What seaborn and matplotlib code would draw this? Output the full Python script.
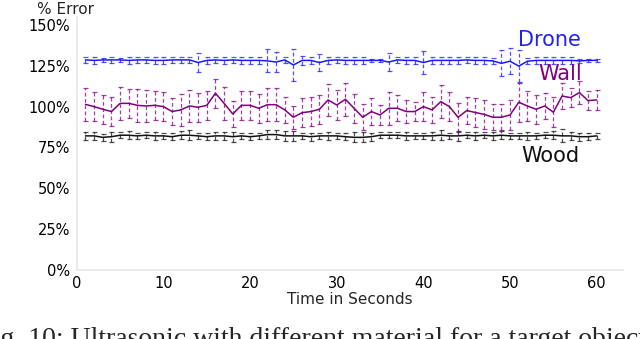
import seaborn as sns
import pandas as pd
import matplotlib.pyplot as plt

sns.set_theme(style="white")

seconds = list(range(1, 61))

drone_mean = [128.6, 128.3, 128.6, 128.6, 128.6, 128.3, 128.6, 128.6, 128.3, 128.3,
              128.6, 128.6, 128.6, 127.0, 128.3, 128.6, 128.3, 128.6, 128.3, 128.3,
              128.3, 128.0, 127.3, 128.6, 125.5, 128.3, 128.3, 127.0, 128.3, 128.6,
              128.3, 128.3, 128.3, 128.3, 128.3, 127.3, 128.6, 128.3, 128.3, 127.0,
              128.3, 128.3, 128.3, 128.3, 128.6, 128.3, 128.3, 128.0, 126.5, 127.8,
              124.8, 127.8, 128.3, 128.3, 128.3, 128.3, 128.3, 128.0, 128.3, 128.3]
drone_err = [2, 2, 1, 2, 1, 2, 2, 2, 2, 2,
             2, 2, 2, 6, 2, 2, 2, 2, 2, 2,
             2, 7, 6, 2, 10, 3, 2, 5, 2, 2,
             2, 2, 2, 1, 1, 5.5, 2, 2, 2, 7,
             2, 2, 2, 2, 2, 2, 2, 2, 8, 8,
             10, 2, 2, 2, 2, 2, 2, 1, 1, 1]

wall_mean = [101.4, 100.0, 98.4, 97.0, 102.0, 102.0, 100.8, 100.4, 100.8, 100.0,
             97.0, 98.0, 100.4, 99.6, 100.8, 108.2, 102.0, 95.5, 100.8, 100.8,
             99.0, 101.2, 101.2, 98.0, 93.5, 96.3, 97.0, 98.4, 104.1, 101.0,
             104.5, 99.0, 93.5, 97.0, 94.9, 99.0, 99.0, 97.0, 97.0, 100.0,
             98.0, 103.1, 100.0, 93.5, 97.6, 96.4, 95.3, 93.5, 93.5, 94.9,
             102.7, 100.4, 98.4, 100.4, 96.6, 106.5, 105.5, 108.6, 103.7, 104.1]
wall_err = [10, 9, 9, 9, 10, 9, 10, 10, 9, 9,
            8, 10, 10, 9, 9, 9, 10, 8, 9, 9,
            9, 10, 10, 8, 7, 9, 9, 9, 10, 9,
            10, 9, 8, 8, 6, 10, 8, 7, 6, 9,
            8, 10, 9, 9, 8, 9, 9, 8, 8, 9,
            12, 9, 9, 8, 9, 8, 6, 7, 6, 6]

wood_mean = [82.1, 82.1, 81.2, 81.6, 82.5, 82.5, 82.1, 82.5, 82.1, 82.1,
             81.6, 82.5, 82.5, 82.1, 81.6, 82.1, 82.1, 81.6, 82.1, 81.6,
             82.1, 82.9, 82.9, 82.1, 82.1, 82.1, 81.6, 82.1, 82.1, 82.1,
             81.6, 81.2, 81.2, 81.6, 82.5, 82.5, 82.5, 82.1, 82.1, 82.1,
             82.1, 82.5, 82.1, 82.1, 82.5, 82.1, 82.5, 82.1, 82.5, 82.1,
             82.1, 82.1, 82.1, 82.5, 82.5, 82.1, 82.1, 81.6, 81.6, 82.1]
wood_err = [2.5, 2.5, 2, 3, 2, 2.5, 2, 2, 2.5, 2,
            2, 2.5, 3, 2, 2, 2.5, 2.5, 3, 2, 2,
            2, 2.5, 2.5, 3, 3, 2, 2.5, 2, 2.5, 2,
            2, 3, 3, 2.5, 2, 2, 2, 2.5, 2, 2,
            2.5, 3, 2, 3, 2, 2.5, 2, 2.5, 2.5, 2,
            2, 2.5, 2, 2, 2.5, 4, 2.5, 2.5, 2, 2]

series = ["Drone", "Wall", "Wood"]
colors = {"Drone": "#1a1aff", "Wall": "#800080", "Wood": "#111111"}

df = pd.concat([
    pd.DataFrame({"t": seconds, "err": drone_mean, "sd": drone_err, "material": "Drone"}),
    pd.DataFrame({"t": seconds, "err": wall_mean, "sd": wall_err, "material": "Wall"}),
    pd.DataFrame({"t": seconds, "err": wood_mean, "sd": wood_err, "material": "Wood"}),
])

fig = plt.figure(figsize=(6.4, 3.39), dpi=100)
ax = fig.add_axes([0.12, 0.2035, 0.853, 0.747])

sns.lineplot(data=df, x="t", y="err", hue="material", palette=colors,
             linewidth=1.1, legend=False, ax=ax)

for name in series:
    d = df[df.material == name]
    eb = ax.errorbar(d.t, d.err, yerr=d.sd, fmt="none", ecolor=colors[name],
                     elinewidth=0.9, capsize=1.8, capthick=0.9, alpha=0.75)
    eb[2][0].set_linestyle((0, (3, 2)))

ax.set_xlim(0, 63)
ax.set_ylim(0, 155)
ax.set_xticks([0, 10, 20, 30, 40, 50, 60])
ax.set_yticks([0, 25, 50, 75, 100, 125, 150])
ax.set_yticklabels([f"{v}%" for v in [0, 25, 50, 75, 100, 125, 150]])
ax.tick_params(axis="both", labelsize=10.5, colors="black")
ax.tick_params(axis="y", length=3, width=0.8, color="#555555", pad=2)
ax.tick_params(axis="x", length=0, pad=4)
for s in ["top", "right"]:
    ax.spines[s].set_visible(False)
for s in ["left", "bottom"]:
    ax.spines[s].set_color("#e8e8e8")
    ax.spines[s].set_linewidth(1.2)

ax.set_xlabel("Time in Seconds", fontsize=11, labelpad=1)
ax.set_ylabel("% Error", fontsize=11, rotation=0, ha="center", va="bottom")
ax.yaxis.set_label_coords(-0.02, 1.0)

ax.text(54.6, 141, "Drone", color="#2222ee", fontsize=15, ha="center", va="center")
ax.text(55.8, 120, "Wall", color="#800080", fontsize=15, ha="center", va="center")
ax.text(54.7, 70, "Wood", color="#111111", fontsize=15, ha="center", va="center")

# caption of the paper figure, cut off by the crop as in the source image
fig.text(-0.036, -0.02, "Fig. 10: Ultrasonic with different material for a target object",
         family=["Liberation Serif", "DejaVu Serif"], fontsize=20, ha="left", va="baseline")

fig.savefig("out.png", dpi=100)
